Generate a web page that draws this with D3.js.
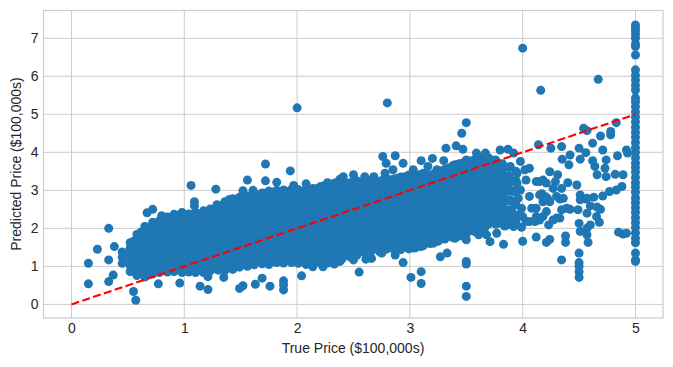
<!DOCTYPE html>
<html>

<head>
  <meta charset="utf-8">
  <title>True vs Predicted Price</title>
  <style>
    body { margin: 0; background: #fff; }
    text { font-family: "Liberation Sans", Arial, sans-serif; fill: #262626; }
  </style>
</head>

<body>
  <svg width="673" height="367"></svg>
  <script src="https://d3js.org/d3.v7.min.js"></script>
  <script>
    var xTicks = [0, 1, 2, 3, 4, 5];
    var yTicks = [0, 1, 2, 3, 4, 5, 6, 7];
    var xLabel = "True Price ($100,000s)";
    var yLabel = "Predicted Price ($100,000s)";
    var perfectLine = [0, 5];

    // dense body of the cloud, read column by column: true price, then predicted prices
    var bodyTrue = [0.45, 0.52, 0.58, 0.65, 0.72, 0.78, 0.85, 0.91, 0.98, 1.04, 1.1, 1.17, 1.23, 1.3, 1.36, 1.43, 1.49, 1.56, 1.62, 1.69, 1.75, 1.82, 1.88, 1.95, 2.01, 2.08, 2.14, 2.21, 2.27, 2.34, 2.4, 2.47, 2.53, 2.6, 2.66, 2.73, 2.79, 2.86, 2.92, 2.99, 3.05, 3.12, 3.18, 3.25, 3.31, 3.38, 3.44, 3.5, 3.57, 3.63, 3.7, 3.76, 3.82, 3.88, 3.94];
    var bodyPred = [
      [1.38, 1.24, 1.08],
      [1.62, 1.47, 1.33, 1.17, 1.02, 0.86],
      [1.84, 1.7, 1.55, 1.4, 1.25, 1.1, 0.95, 0.76],
      [2.05, 1.9, 1.76, 1.6, 1.46, 1.31, 1.16, 1.02, 0.86, 0.72],
      [2.16, 2.0, 1.84, 1.69, 1.53, 1.38, 1.23, 1.08, 0.93, 0.8],
      [2.2, 2.07, 1.91, 1.76, 1.6, 1.45, 1.3, 1.15, 1.0, 0.84],
      [2.3, 2.14, 1.98, 1.83, 1.68, 1.52, 1.37, 1.22, 1.07, 0.92, 0.85],
      [2.37, 2.21, 2.06, 1.9, 1.75, 1.59, 1.44, 1.29, 1.14, 0.99, 0.86],
      [2.42, 2.28, 2.12, 1.97, 1.81, 1.66, 1.51, 1.36, 1.21, 1.06, 0.92, 0.84],
      [2.38, 2.22, 2.05, 1.9, 1.74, 1.58, 1.43, 1.28, 1.13, 0.98, 0.85],
      [2.42, 2.27, 2.12, 1.97, 1.81, 1.66, 1.5, 1.35, 1.2, 1.05, 0.91, 0.84],
      [2.46, 2.31, 2.15, 1.99, 1.84, 1.68, 1.53, 1.38, 1.23, 1.08, 0.96, 0.84],
      [2.51, 2.38, 2.22, 2.06, 1.91, 1.75, 1.6, 1.45, 1.3, 1.15, 1.01, 0.88],
      [2.6, 2.44, 2.28, 2.13, 1.97, 1.82, 1.67, 1.51, 1.36, 1.21, 1.06, 0.9],
      [2.7, 2.55, 2.39, 2.23, 2.07, 1.92, 1.76, 1.6, 1.45, 1.3, 1.15, 1.0, 0.89],
      [2.78, 2.62, 2.46, 2.31, 2.15, 1.99, 1.83, 1.68, 1.53, 1.37, 1.22, 1.07, 0.92],
      [2.82, 2.68, 2.52, 2.37, 2.21, 2.05, 1.9, 1.75, 1.59, 1.44, 1.29, 1.14, 0.98],
      [2.85, 2.7, 2.55, 2.39, 2.23, 2.08, 1.92, 1.77, 1.61, 1.46, 1.31, 1.16, 1.0],
      [2.9, 2.76, 2.6, 2.44, 2.28, 2.13, 1.97, 1.82, 1.66, 1.51, 1.36, 1.21, 1.04],
      [2.93, 2.78, 2.62, 2.47, 2.31, 2.15, 2.0, 1.84, 1.69, 1.54, 1.39, 1.23, 1.07],
      [2.98, 2.84, 2.68, 2.53, 2.37, 2.21, 2.06, 1.9, 1.75, 1.6, 1.45, 1.3, 1.14, 1.05],
      [3.0, 2.85, 2.69, 2.54, 2.38, 2.22, 2.07, 1.91, 1.76, 1.61, 1.46, 1.31, 1.16, 1.1],
      [3.01, 2.88, 2.73, 2.58, 2.42, 2.26, 2.11, 1.95, 1.8, 1.65, 1.49, 1.34, 1.19, 1.09],
      [3.02, 2.86, 2.7, 2.55, 2.39, 2.23, 2.08, 1.92, 1.77, 1.62, 1.47, 1.32, 1.16, 1.1],
      [3.02, 2.89, 2.74, 2.59, 2.43, 2.27, 2.12, 1.96, 1.81, 1.66, 1.5, 1.35, 1.2, 1.08],
      [3.03, 2.87, 2.71, 2.56, 2.4, 2.24, 2.09, 1.93, 1.78, 1.63, 1.48, 1.32, 1.17, 1.05],
      [3.05, 2.91, 2.75, 2.6, 2.44, 2.28, 2.13, 1.97, 1.82, 1.67, 1.51, 1.36, 1.21, 1.06, 0.99],
      [3.1, 2.95, 2.79, 2.63, 2.47, 2.32, 2.16, 2.01, 1.85, 1.7, 1.55, 1.4, 1.24, 1.08],
      [3.2, 3.05, 2.89, 2.74, 2.58, 2.42, 2.27, 2.11, 1.96, 1.8, 1.65, 1.5, 1.35, 1.2, 1.09],
      [3.2, 3.07, 2.92, 2.76, 2.6, 2.45, 2.29, 2.13, 1.98, 1.83, 1.68, 1.52, 1.37, 1.22, 1.14],
      [3.21, 3.05, 2.89, 2.74, 2.58, 2.43, 2.27, 2.12, 1.96, 1.81, 1.66, 1.5, 1.35, 1.2],
      [3.2, 3.07, 2.93, 2.78, 2.62, 2.46, 2.31, 2.15, 2.0, 1.85, 1.7, 1.54, 1.39, 1.25],
      [3.25, 3.1, 2.94, 2.78, 2.63, 2.47, 2.32, 2.16, 2.01, 1.86, 1.71, 1.56, 1.41, 1.29],
      [3.25, 3.12, 2.97, 2.82, 2.66, 2.5, 2.35, 2.19, 2.04, 1.89, 1.73, 1.58, 1.44, 1.35],
      [3.26, 3.1, 2.94, 2.79, 2.63, 2.47, 2.32, 2.16, 2.01, 1.86, 1.71, 1.56, 1.41],
      [3.24, 3.11, 2.96, 2.81, 2.65, 2.5, 2.34, 2.19, 2.04, 1.89, 1.74, 1.59, 1.45, 1.39],
      [3.3, 3.15, 2.99, 2.84, 2.68, 2.52, 2.37, 2.21, 2.06, 1.91, 1.75, 1.6, 1.45],
      [3.3, 3.17, 3.02, 2.87, 2.71, 2.56, 2.4, 2.25, 2.1, 1.95, 1.8, 1.65, 1.5, 1.44],
      [3.35, 3.2, 3.04, 2.89, 2.73, 2.58, 2.42, 2.27, 2.12, 1.97, 1.82, 1.67, 1.52, 1.44],
      [3.4, 3.27, 3.11, 2.96, 2.8, 2.65, 2.49, 2.34, 2.19, 2.04, 1.89, 1.74, 1.59, 1.46],
      [3.4, 3.25, 3.09, 2.93, 2.78, 2.62, 2.47, 2.31, 2.16, 2.01, 1.86, 1.71, 1.56, 1.49],
      [3.45, 3.31, 3.16, 3.0, 2.85, 2.69, 2.54, 2.38, 2.23, 2.08, 1.93, 1.78, 1.63, 1.55],
      [3.4, 3.25, 3.1, 2.94, 2.79, 2.63, 2.48, 2.33, 2.18, 2.03, 1.88, 1.73, 1.6],
      [3.5, 3.36, 3.21, 3.06, 2.9, 2.75, 2.59, 2.44, 2.29, 2.14, 1.99, 1.84, 1.66],
      [3.55, 3.4, 3.24, 3.09, 2.93, 2.78, 2.62, 2.47, 2.32, 2.17, 2.02, 1.87, 1.72],
      [3.65, 3.5, 3.35, 3.19, 3.04, 2.88, 2.73, 2.57, 2.42, 2.27, 2.12, 1.97, 1.76],
      [3.7, 3.56, 3.41, 3.26, 3.1, 2.95, 2.79, 2.64, 2.48, 2.33, 2.18, 2.03, 1.88, 1.8],
      [3.75, 3.6, 3.44, 3.29, 3.13, 2.98, 2.83, 2.67, 2.52, 2.37, 2.22, 2.07, 1.92, 1.85],
      [3.8, 3.66, 3.5, 3.35, 3.2, 3.04, 2.89, 2.73, 2.57, 2.4, 2.24, 2.08, 1.92],
      [3.85, 3.7, 3.54, 3.38, 3.22, 3.07, 2.91, 2.76, 2.6, 2.44, 2.28, 2.12, 1.95],
      [3.85, 3.69, 3.52, 3.36, 3.2, 3.02, 2.85, 2.69, 2.52, 2.36, 2.2, 2.12],
      [3.8, 3.62, 3.45, 3.28, 3.1, 2.93, 2.75, 2.58, 2.4, 2.22, 2.11],
      [3.7, 3.52, 3.33, 3.14, 2.96, 2.77, 2.58, 2.39, 2.2],
      [3.6, 3.38, 3.18, 2.98, 2.72, 2.48, 2.28, 2.11],
      [3.5, 3.26, 3.02, 2.62, 2.34, 2.18]
    ];

    // second pass through the cloud, between the columns above
    var midTrue = [0.55, 0.615, 0.685, 0.75, 0.815, 0.88, 0.945, 1.01, 1.07, 1.135, 1.2, 1.265, 1.33, 1.395, 1.46, 1.525, 1.59, 1.655, 1.72, 1.785, 1.85, 1.915, 1.98, 2.045, 2.11, 2.175, 2.24, 2.305, 2.37, 2.435, 2.5, 2.565, 2.63, 2.695, 2.76, 2.825, 2.89, 2.955, 3.02, 3.085, 3.15, 3.215, 3.28, 3.345, 3.41, 3.47, 3.535, 3.6, 3.665];
    var midPred = [
      [1.66, 1.47, 1.27, 1.06, 0.88],
      [1.9, 1.69, 1.5, 1.29, 1.08, 0.88],
      [2.02, 1.82, 1.61, 1.41, 1.2, 1.0, 0.82],
      [2.1, 1.92, 1.71, 1.5, 1.29, 1.09, 0.9],
      [2.2, 2.02, 1.8, 1.6, 1.38, 1.18, 0.97],
      [2.28, 2.08, 1.87, 1.66, 1.45, 1.25, 1.04],
      [2.34, 2.13, 1.93, 1.72, 1.5, 1.31, 1.09, 0.93],
      [2.32, 2.12, 1.91, 1.71, 1.51, 1.3, 1.1, 0.92],
      [2.36, 2.16, 1.94, 1.74, 1.53, 1.33, 1.12, 0.94],
      [2.38, 2.2, 1.99, 1.78, 1.58, 1.37, 1.16, 0.97],
      [2.42, 2.22, 2.02, 1.81, 1.6, 1.4, 1.19, 0.99],
      [2.5, 2.3, 2.09, 1.88, 1.68, 1.47, 1.26, 1.05],
      [2.56, 2.37, 2.16, 1.95, 1.74, 1.54, 1.33, 1.13, 0.95],
      [2.68, 2.47, 2.27, 2.06, 1.85, 1.64, 1.43, 1.23, 1.03],
      [2.74, 2.54, 2.33, 2.12, 1.92, 1.71, 1.5, 1.3, 1.09],
      [2.78, 2.58, 2.37, 2.16, 1.96, 1.75, 1.54, 1.34, 1.13],
      [2.82, 2.63, 2.42, 2.21, 2.0, 1.8, 1.59, 1.38, 1.18],
      [2.87, 2.67, 2.46, 2.25, 2.05, 1.84, 1.63, 1.43, 1.22],
      [2.92, 2.73, 2.52, 2.31, 2.1, 1.9, 1.69, 1.48, 1.27, 1.1],
      [2.95, 2.76, 2.55, 2.34, 2.14, 1.93, 1.72, 1.52, 1.31, 1.12],
      [2.96, 2.78, 2.58, 2.37, 2.16, 1.96, 1.75, 1.54, 1.34, 1.15],
      [2.97, 2.77, 2.57, 2.36, 2.15, 1.94, 1.74, 1.53, 1.32, 1.16],
      [2.98, 2.79, 2.59, 2.38, 2.17, 1.97, 1.76, 1.55, 1.35, 1.17],
      [2.97, 2.78, 2.57, 2.37, 2.16, 1.95, 1.75, 1.54, 1.33, 1.15],
      [3.0, 2.8, 2.6, 2.39, 2.18, 1.98, 1.77, 1.56, 1.36, 1.15],
      [3.03, 2.84, 2.63, 2.42, 2.22, 2.01, 1.8, 1.6, 1.39, 1.18],
      [3.12, 2.93, 2.72, 2.52, 2.31, 2.1, 1.9, 1.69, 1.48, 1.28, 1.14],
      [3.16, 2.96, 2.75, 2.55, 2.34, 2.13, 1.93, 1.72, 1.51, 1.31, 1.19],
      [3.17, 2.98, 2.77, 2.56, 2.36, 2.15, 1.94, 1.74, 1.53, 1.32, 1.24],
      [3.18, 2.97, 2.76, 2.56, 2.35, 2.14, 1.94, 1.73, 1.52, 1.33],
      [3.22, 3.02, 2.81, 2.6, 2.4, 2.19, 1.98, 1.78, 1.57, 1.37],
      [3.22, 3.03, 2.83, 2.62, 2.41, 2.2, 2.0, 1.79, 1.58, 1.42],
      [3.23, 3.03, 2.82, 2.61, 2.41, 2.2, 2.0, 1.79, 1.58, 1.47],
      [3.22, 3.02, 2.82, 2.61, 2.4, 2.2, 1.99, 1.78, 1.58, 1.47],
      [3.27, 3.07, 2.87, 2.66, 2.45, 2.25, 2.04, 1.83, 1.63, 1.5],
      [3.28, 3.09, 2.88, 2.67, 2.47, 2.26, 2.05, 1.85, 1.64, 1.52],
      [3.32, 3.12, 2.91, 2.7, 2.5, 2.29, 2.08, 1.88, 1.67, 1.52],
      [3.36, 3.17, 2.96, 2.75, 2.55, 2.34, 2.13, 1.93, 1.72, 1.54],
      [3.38, 3.18, 2.97, 2.76, 2.56, 2.35, 2.14, 1.94, 1.73, 1.56],
      [3.41, 3.21, 3.0, 2.8, 2.59, 2.38, 2.18, 1.97, 1.76, 1.6],
      [3.41, 3.22, 3.01, 2.8, 2.6, 2.39, 2.18, 1.98, 1.77, 1.64],
      [3.44, 3.24, 3.03, 2.82, 2.62, 2.41, 2.2, 2.0, 1.79, 1.68],
      [3.51, 3.31, 3.1, 2.9, 2.69, 2.48, 2.28, 2.07, 1.86, 1.72],
      [3.59, 3.39, 3.18, 2.97, 2.77, 2.56, 2.35, 2.15, 1.94, 1.8],
      [3.66, 3.46, 3.26, 3.05, 2.84, 2.64, 2.43, 2.22, 2.02, 1.86],
      [3.72, 3.52, 3.31, 3.1, 2.9, 2.69, 2.48, 2.28, 2.07, 1.9],
      [3.77, 3.57, 3.36, 3.16, 2.95, 2.74, 2.54, 2.33, 2.12, 1.95],
      [3.8, 3.61, 3.4, 3.2, 2.99, 2.78, 2.58, 2.37, 2.16, 2.0],
      [3.82, 3.61, 3.4, 3.19, 2.98, 2.78, 2.57, 2.36, 2.16, 2.02]
    ];

    // loose points around the cloud
    var looseTrue = [0.15, 0.15, 0.23, 0.33, 0.33, 0.33, 0.37, 0.38, 0.55, 0.57, 0.67, 0.72, 0.8, 0.77, 0.96, 1.06, 1.09, 1.09, 1.28, 1.21, 1.14, 1.56, 1.72, 1.72, 1.94, 1.82, 1.52, 1.61, 1.4, 1.29, 1.49, 1.52, 1.63, 1.76, 1.88, 1.88, 1.88, 1.69, 1.35, 1.21, 2.04, 2.23, 2.33, 2.08, 2.28, 2.18, 1.97, 2.38, 2.0, 2.8, 4.0, 4.16, 4.67, 3.5, 3.46, 3.5, 3.5, 3.5, 3.5, 3.1, 3.01, 3.1, 2.55, 2.66, 2.61, 2.94, 3.27, 3.33, 2.76, 2.87, 3.1, 3.2, 3.32, 3.41, 3.47, 3.98, 4.06, 4.24, 4.31, 4.18, 4.12, 4.03, 4.27, 4.345, 4.17, 4.22, 4.06, 4.33, 4.18, 4.12, 4.21, 4.12, 4.06, 3.99, 4.23, 4.15, 3.96, 4.0, 4.14, 4.25, 4.345, 4.5, 4.42, 4.35, 4.41, 4.51, 4.56, 4.62, 4.71, 4.69, 4.78, 4.78, 4.54, 4.57, 4.83, 4.84, 4.92, 4.93, 4.62, 4.64, 4.66, 4.74, 4.73, 4.74, 4.82, 4.89, 4.88, 4.83, 4.77, 4.71, 4.63, 4.48, 4.4, 4.51, 4.56, 4.69, 4.6, 4.655, 4.68, 4.57, 4.49, 4.42, 4.345, 4.33, 4.27, 4.5, 4.6, 4.57, 4.51, 4.57, 4.58, 4.85, 4.89, 4.92, 4.38, 4.38, 4.24, 4.21, 4.12, 4.0, 3.83, 4.345, 4.5, 4.5, 4.5, 4.5, 4.5,
      2.38, 2.5, 2.75, 2.87, 3.03, 3.1, 3.21, 3.4, 3.5, 3.61, 3.71, 2.41, 2.5, 2.6, 2.68, 2.78, 2.85, 2.79, 2.94, 3.03, 3.13, 3.16, 3.24, 3.3, 3.4, 3.5, 3.59, 3.67, 3.8, 3.87, 3.92, 3.86, 3.93, 3.8, 3.77, 3.68,
      3.8, 3.89, 3.95, 4.02, 3.86, 3.95, 3.86, 3.92, 3.77, 3.83, 3.98, 3.89, 3.83, 3.9, 3.77, 3.99, 3.84, 3.95, 3.77, 3.78, 3.84, 3.92, 4.03, 4.11, 4.18, 4.08, 4.24, 4.3, 4.36, 4.3, 4.39, 4.29, 4.21, 4.15, 4.51, 4.57, 4.66, 4.2, 4.15];
    var loosePred = [1.08, 0.54, 1.45, 2.0, 1.17, 0.6, 0.77, 1.52, 0.34, 0.11, 2.41, 2.5, 2.33, 0.54, 0.56, 3.13, 2.7, 2.59, 3.03, 0.39, 0.48, 3.27, 3.69, 3.25, 3.51, 3.21, 2.99, 3.0, 2.76, 2.62, 0.42, 0.49, 0.53, 0.48, 0.62, 0.51, 0.38, 0.69, 0.71, 0.73, 0.75, 0.99, 1.06, 3.17, 3.18, 3.05, 3.13, 3.29, 5.17, 5.3, 6.74, 5.63, 5.92, 4.78, 4.5, 1.13, 1.06, 0.48, 0.21, 0.86, 0.71, 0.55, 0.85, 1.21, 1.19, 1.1, 1.25, 1.35, 3.89, 3.91, 3.78, 3.84, 4.11, 4.17, 4.08, 3.76, 3.58, 3.49, 3.41, 3.27, 3.23, 3.27, 3.05, 3.05, 2.91, 2.79, 2.84, 2.77, 2.7, 2.53, 2.44, 2.31, 2.18, 2.03, 2.09, 2.22, 2.79, 2.31, 4.2, 4.11, 4.15, 4.11, 3.93, 3.82, 3.67, 3.82, 3.99, 4.24, 4.06, 4.43, 4.46, 4.55, 4.63, 4.57, 4.78, 3.91, 4.06, 3.98, 3.78, 3.63, 3.41, 3.8, 3.58, 3.36, 3.42, 3.41, 3.1, 3.01, 2.97, 2.85, 2.82, 3.14, 3.2, 2.88, 2.77, 2.5, 2.59, 2.31, 2.16, 2.4, 2.49, 2.5, 2.49, 2.27, 2.22, 2.13, 2.09, 2.0, 1.92, 1.83, 1.63, 1.9, 1.85, 1.87, 1.8, 1.63, 1.71, 1.63, 1.77, 1.66, 1.58, 1.17, 1.35, 1.1, 1.0, 0.86, 0.71,
      1.13, 1.17, 1.35, 1.3, 1.48, 1.52, 1.61, 1.74, 1.7, 1.83, 1.65, 3.36, 3.41, 3.36, 3.36, 3.45, 3.54, 3.71, 3.71, 3.54, 3.41, 3.63, 3.54, 3.78, 3.67, 3.8, 3.98, 3.98, 4.06, 4.08, 3.98, 2.09, 2.18, 2.18, 1.87, 1.83,
      3.54, 3.63, 3.45, 3.54, 3.36, 3.19, 3.1, 2.97, 3.27, 2.88, 3.01, 2.75, 2.53, 2.49, 2.66, 2.53, 2.31, 2.35, 2.31, 2.13, 2.06, 2.05, 2.18, 2.18, 2.31, 2.53, 2.7, 2.84, 2.79, 2.27, 2.53, 3.23, 3.19, 3.23, 2.75, 2.79, 2.56, 2.84, 2.88];

    // everything above 5 was capped, so these sit in a column at 5
    var cappedTrue = 5;
    var cappedPred = [1.13, 1.17, 1.35, 1.62, 1.74, 1.88, 2.02, 2.15, 2.28, 2.42, 2.55, 2.68, 2.8, 2.95, 3.08, 3.2, 3.34, 3.48, 3.6, 3.72, 3.86, 4.0, 4.12, 4.26, 4.4, 4.52, 4.66, 4.8, 4.93, 5.06, 5.2, 5.33, 5.43, 5.64, 5.76, 5.9, 6.02, 6.17, 6.56, 6.78, 6.85, 7.0, 7.1, 7.2, 7.28, 7.35];

    var margin = { left: 43.5, right: 663, top: 10.5, bottom: 318 };
    var xScale = d3.scaleLinear().domain([-0.248, 5.244]).range([margin.left, margin.right]);
    var yScale = d3.scaleLinear().domain([-0.358, 7.73]).range([margin.bottom, margin.top]);

    var svg = d3.select("svg");

    // grid first, so that everything else sits on it
    svg.append("g").selectAll("line").data(xTicks).join("line")
      .attr("x1", d => xScale(d)).attr("x2", d => xScale(d))
      .attr("y1", margin.top).attr("y2", margin.bottom)
      .attr("stroke", "#cccccc").attr("stroke-width", 1);
    svg.append("g").selectAll("line").data(yTicks).join("line")
      .attr("x1", margin.left).attr("x2", margin.right)
      .attr("y1", d => yScale(d)).attr("y2", d => yScale(d))
      .attr("stroke", "#cccccc").attr("stroke-width", 1);

    var points = [];
    bodyTrue.forEach((t, i) => bodyPred[i].forEach(p => points.push([t, p])));
    midTrue.forEach((t, i) => midPred[i].forEach(p => points.push([t, p])));
    looseTrue.forEach((t, i) => points.push([t, loosePred[i]]));
    cappedPred.forEach(p => points.push([cappedTrue, p]));

    svg.append("g").selectAll("circle").data(points).join("circle")
      .attr("cx", d => xScale(d[0]))
      .attr("cy", d => yScale(d[1]))
      .attr("r", 4.5)
      .attr("fill", "#1f77b4");

    svg.append("line")
      .attr("x1", xScale(perfectLine[0])).attr("y1", yScale(perfectLine[0]))
      .attr("x2", xScale(perfectLine[1])).attr("y2", yScale(perfectLine[1]))
      .attr("stroke", "#ff0000").attr("stroke-width", 2.1)
      .attr("stroke-dasharray", "8,3.4");

    // frame
    svg.append("rect")
      .attr("x", margin.left).attr("y", margin.top)
      .attr("width", margin.right - margin.left).attr("height", margin.bottom - margin.top)
      .attr("fill", "none").attr("stroke", "#cccccc").attr("stroke-width", 1.2);

    var xAxis = svg.append("g").attr("transform", "translate(0," + margin.bottom + ")")
      .call(d3.axisBottom(xScale).tickValues(xTicks).tickSize(0).tickPadding(5).tickFormat(d3.format("d")));
    var yAxis = svg.append("g").attr("transform", "translate(" + margin.left + ",0)")
      .call(d3.axisLeft(yScale).tickValues(yTicks).tickSize(0).tickPadding(5).tickFormat(d3.format("d")));
    xAxis.select(".domain").remove();
    yAxis.select(".domain").remove();
    svg.selectAll(".tick text").style("font-family", '"Liberation Sans", Arial, sans-serif').style("font-size", "14px").attr("fill", "#262626");

    svg.append("text").attr("x", 353).attr("y", 353)
      .attr("text-anchor", "middle").style("font-size", "14px").text(xLabel);
    svg.append("text").attr("transform", "translate(21,164) rotate(-90)")
      .attr("text-anchor", "middle").style("font-size", "14px").text(yLabel);
  </script>

</body>

</html>
